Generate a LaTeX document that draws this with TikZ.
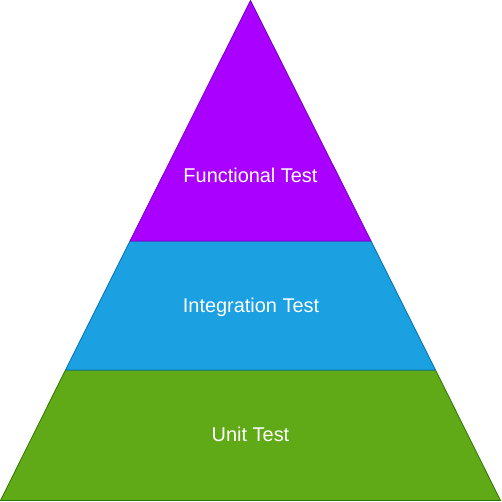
\documentclass[tikz,border=0pt]{standalone}
\usepackage{fontspec}
\setmainfont{Liberation Sans}
\definecolor{funcfill}{HTML}{AA00FF}
\definecolor{funcline}{HTML}{7700CC}
\definecolor{intfill}{HTML}{1BA1E2}
\definecolor{intline}{HTML}{006EAF}
\definecolor{unitfill}{HTML}{60A917}
\definecolor{unitline}{HTML}{2D7600}
\begin{document}
\begin{tikzpicture}[x=1bp,y=-1bp,
  layer/.style={line width=0.8bp, line join=round},
  lbl/.style={text=white, font=\fontsize{20}{24}\selectfont, inner sep=0pt, anchor=base}]
\useasboundingbox (0,0) rectangle (502,502);
\coordinate (apex) at (250.5,0.5);
\coordinate (fl) at (130,241);
\coordinate (fr) at (371,241);
\coordinate (il) at (65.5,370);
\coordinate (ir) at (435.5,370);
\coordinate (bl) at (0.5,500.5);
\coordinate (br) at (500.5,500.5);
\draw[layer, fill=unitfill, draw=unitline] (il) -- (ir) -- (br) -- (bl) -- cycle;
\draw[layer, fill=intfill, draw=intline] (fl) -- (fr) -- (ir) -- (il) -- cycle;
\draw[layer, fill=funcfill, draw=funcline] (apex) -- (fr) -- (fl) -- cycle;
\node[lbl] (func) at (250.5,182.3) {Functional Test};
\node[lbl] (integ) at (251,312.3) {Integration Test};
\node[lbl] (unit) at (250.5,441.3) {Unit Test};
\end{tikzpicture}
\end{document}
